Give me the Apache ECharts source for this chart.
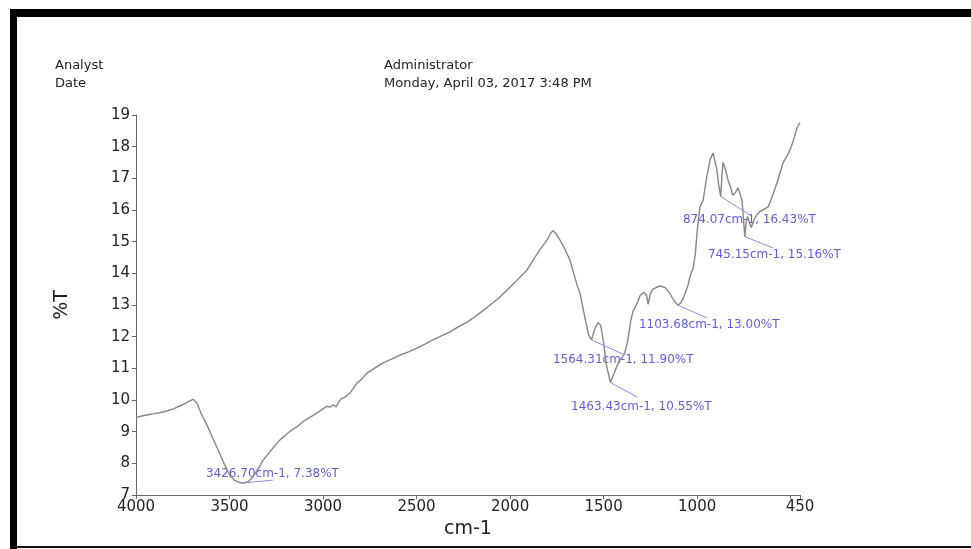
<!DOCTYPE html>
<html>
<head>
<meta charset="utf-8">
<title>FTIR</title>
<script src="https://cdn.jsdelivr.net/npm/echarts@6/dist/echarts.min.js"></script>
<style>
html, body { margin: 0; padding: 0; background: #fff; }
#chart { width: 971px; height: 549px; }
</style>
</head>
<body>
<div id="chart"></div>
<script>
// 光谱数据：波数 (cm-1) 与透过率 (%T)
const wavenumbers = [
  4000, 3950, 3900, 3856, 3800, 3750, 3720, 3695, 3674, 3650, 3620, 3590, 3567, 3530, 3497, 3470, 3440, 3426.7,
  3400, 3374, 3350, 3320, 3280, 3230, 3180, 3140, 3100, 3070, 3030, 3000, 2980, 2960, 2946, 2930, 2915, 2900,
  2880, 2856, 2818, 2800, 2765, 2720, 2679, 2630, 2589, 2540, 2498, 2450, 2412, 2370, 2321, 2280, 2230, 2200,
  2177, 2150, 2107, 2060, 2016, 1980, 1947, 1910, 1877, 1840, 1803, 1785, 1771, 1755, 1733, 1710, 1680, 1660,
  1640, 1626, 1600, 1580, 1564.31, 1550, 1530, 1515, 1500, 1485, 1463.43, 1440, 1420, 1400, 1386, 1370, 1355,
  1343, 1321, 1305, 1285, 1270, 1262, 1250, 1236, 1200, 1170, 1145, 1125, 1103.68, 1090, 1075, 1050, 1038,
  1021, 1010, 1000, 985, 968, 950, 930, 915, 905, 895, 885, 874.07, 868, 862, 855, 845, 835, 820, 810, 795,
  782, 770, 760, 752, 745.15, 738, 730, 720, 710, 695, 680, 665, 648, 635, 620, 594, 568, 540, 520, 503, 485,
  466, 450
];
const transmittance = [
  9.45, 9.52, 9.57, 9.62, 9.72, 9.85, 9.95, 10.02, 9.9, 9.55, 9.2, 8.8, 8.5, 8.0, 7.6, 7.45, 7.38, 7.38,
  7.42, 7.57, 7.8, 8.1, 8.4, 8.74, 9.0, 9.15, 9.35, 9.45, 9.6, 9.72, 9.8, 9.78, 9.85, 9.78, 9.95, 10.05,
  10.1, 10.22, 10.54, 10.62, 10.85, 11.02, 11.17, 11.3, 11.42, 11.53, 11.64, 11.78, 11.9, 12.02, 12.15, 12.3, 12.46, 12.58,
  12.68, 12.8, 13.0, 13.22, 13.47, 13.68, 13.88, 14.1, 14.42, 14.75, 15.05, 15.25, 15.35, 15.25, 15.05, 14.8, 14.42, 14.0,
  13.6, 13.37, 12.6, 12.05, 11.9, 12.2, 12.45, 12.35, 11.8, 11.1, 10.55, 10.9, 11.2, 11.35, 11.5, 11.9, 12.5,
  12.8, 13.05, 13.3, 13.4, 13.3, 13.02, 13.35, 13.5, 13.6, 13.55, 13.35, 13.15, 13.0, 13.05, 13.2, 13.6, 13.9,
  14.17, 14.6, 15.3, 16.1, 16.3, 17.0, 17.6, 17.8, 17.75, 17.3, 16.8, 16.43, 17.0, 17.5, 17.4, 17.2, 16.95, 16.7, 16.47, 16.55,
  16.7, 16.5, 16.3, 15.7, 15.16, 15.6, 15.8, 15.6, 15.45, 15.7, 15.85, 15.95, 16.0, 16.05, 16.1, 16.5, 16.95, 17.5, 17.7, 17.9, 18.2,
  18.6, 18.75
];
// 标注峰
const peakWavenumbers = [3426.70, 1564.31, 1463.43, 1103.68, 874.07, 745.15];
const peakValues = [7.38, 11.90, 10.55, 13.00, 16.43, 15.16];
// 引线终点和文字起点（数据坐标）
const leaderEndX = [3268, 1386, 1321, 947, 717, 594];
const leaderEndY = [7.47, 11.42, 10.10, 12.59, 15.84, 14.80];
const labelAnchorX = [3626, 1771, 1674, 1311, 1076, 942];
const labelAnchorY = [7.66, 11.26, 9.78, 12.37, 15.68, 14.58];
// 刻度
const xTickLabels = [4000, 3500, 3000, 2500, 2000, 1500, 1000, 450];
const xTickValues = [4000, 3500, 3000, 2500, 2000, 1500, 1000, 500, 450];

const chart = echarts.init(document.getElementById("chart"));
const font = "DejaVu Sans";

const option = {
  animation: false,
  backgroundColor: "#fff",
  grid: { left: 136, right: 171, top: 115, bottom: 54 },
  xAxis: {
    type: "value",
    min: 450,
    max: 4000,
    inverse: true,
    name: "cm-1",
    nameLocation: "middle",
    nameGap: 18,
    nameTextStyle: { fontSize: 19, color: "#222", fontFamily: font },
    splitLine: { show: false },
    axisLine: { show: true, lineStyle: { color: "#666", width: 1 } },
    axisTick: { show: true, length: 4, customValues: xTickValues, lineStyle: { color: "#666" } },
    axisLabel: {
      customValues: xTickLabels,
      color: "#222",
      fontSize: 15,
      fontFamily: font,
      margin: 5,
      formatter: (v) => String(v)
    }
  },
  yAxis: {
    type: "value",
    min: 7,
    max: 19,
    interval: 1,
    name: "%T",
    nameLocation: "middle",
    nameRotate: 90,
    nameGap: 64,
    nameTextStyle: { fontSize: 19, color: "#222", fontFamily: font },
    splitLine: { show: false },
    axisLine: { show: true, lineStyle: { color: "#666", width: 1 } },
    axisTick: { show: true, length: 4, lineStyle: { color: "#666" } },
    axisLabel: { color: "#222", fontSize: 15, fontFamily: font, margin: 6 }
  },
  graphic: [
    // 外框
    { type: "rect", left: 10, top: 9, shape: { width: 961, height: 8 }, style: { fill: "#000" }, silent: true },
    { type: "rect", left: 10, top: 9, shape: { width: 7, height: 540 }, style: { fill: "#000" }, silent: true },
    { type: "rect", left: 10, top: 546, shape: { width: 961, height: 2 }, style: { fill: "#111" }, silent: true },
    // 表头
    { type: "text", left: 55, top: 59, style: { text: "Analyst", fontSize: 13, fontFamily: font, fill: "#222" } },
    { type: "text", left: 55, top: 77, style: { text: "Date", fontSize: 13, fontFamily: font, fill: "#222" } },
    { type: "text", left: 384, top: 59, style: { text: "Administrator", fontSize: 13, fontFamily: font, fill: "#222" } },
    { type: "text", left: 384, top: 77, style: { text: "Monday, April 03, 2017 3:48 PM", fontSize: 13, fontFamily: font, fill: "#222" } }
  ],
  series: [
    {
      type: "line",
      data: wavenumbers.map((w, i) => [w, transmittance[i]]),
      showSymbol: false,
      silent: true,
      lineStyle: { color: "#858585", width: 1.4 },
      markLine: {
        silent: true,
        symbol: ["none", "none"],
        label: { show: false },
        lineStyle: { color: "#8c8ce0", width: 1, type: "solid" },
        data: peakWavenumbers.map((w, i) => [
          { coord: [w, peakValues[i]] },
          { coord: [leaderEndX[i], leaderEndY[i]] }
        ])
      }
    },
    {
      type: "scatter",
      symbolSize: 0,
      silent: true,
      data: labelAnchorX.map((x, i) => [x, labelAnchorY[i]]),
      label: {
        show: true,
        position: "right",
        distance: 0,
        color: "#3535cc",
        fontSize: 12,
        fontFamily: font,
        formatter: (p) => {
          const i = p.dataIndex;
          return peakWavenumbers[i].toFixed(2) + "cm-1, " + peakValues[i].toFixed(2) + "%T";
        }
      }
    }
  ]
};
chart.setOption(option);
</script>
</body>
</html>
